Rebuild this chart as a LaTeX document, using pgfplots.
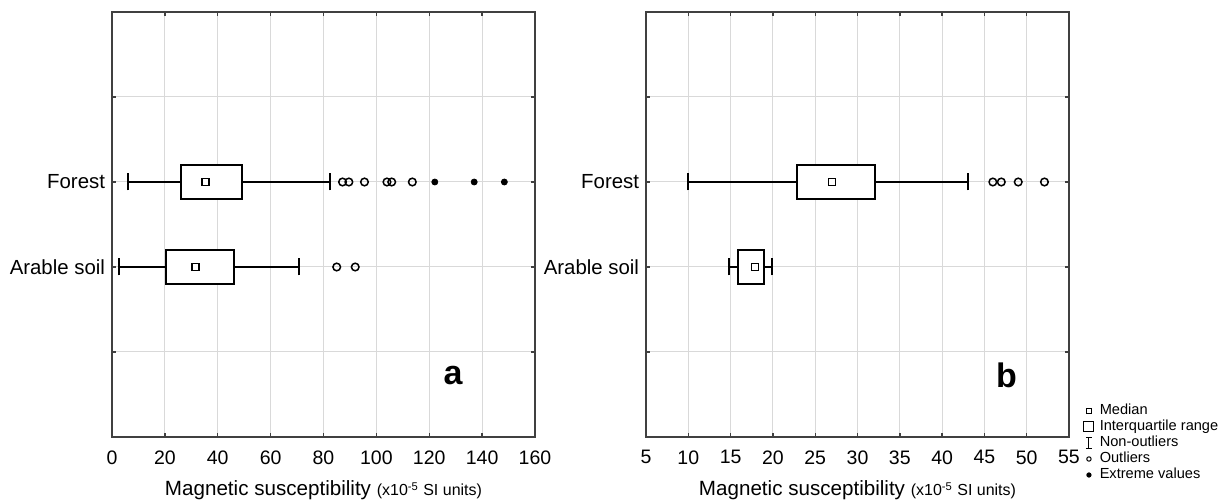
\documentclass[border=0pt]{standalone}
\usepackage{pgfplots}
\pgfplotsset{compat=1.18}
\usepgfplotslibrary{statistics}
\usepackage{fontspec}
\setmainfont{Liberation Sans}

% one picture pixel of the reference = 0.5bp
\pgfplotsset{
  panel/.style={
    scale only axis, width=211.5bp, height=212.5bp,
    anchor=south west,
    ymin=0, ymax=5,
    ytick={1,2,3,4}, yticklabels={,Arable soil,Forest,},
    grid=major, grid style={gray!30, line width=0.5bp},
    axis line style={black!75, line width=1.1bp},
    tick align=inside, major tick length=2bp,
    tick style={black!75, line width=0.7bp},
    xtick pos=both, ytick pos=both,
    /pgf/number format/assume math mode=true,
    x tick label style={font=\fontsize{9.75bp}{10bp}\selectfont, inner sep=0pt, anchor=north, yshift=-6.5bp},
    y tick label style={font=\fontsize{10.2bp}{11bp}\selectfont, inner sep=0pt, anchor=east, xshift=-3.3bp},
    xlabel={Magnetic susceptibility {\fontsize{8bp}{8bp}\selectfont(x10\textsuperscript{-5} SI units)}},
    xlabel style={font=\fontsize{10.3bp}{11bp}\selectfont, at={(axis description cs:0.5,0)},
                  anchor=base, inner sep=0pt, yshift=-29.4bp},
  },
  bx/.style={black, line width=1bp, fill=white, boxplot/draw/median/.code={}},
  med/.style={only marks, mark=square, mark size=1.75bp, mark options={black, line width=0.8bp}},
  outl/.style={only marks, mark=o, mark size=1.9bp, mark options={black, line width=0.75bp}},
  extr/.style={only marks, mark=*, mark size=1.5bp, mark options={black, fill=black}},
}

\begin{document}
\begin{tikzpicture}
\useasboundingbox (0,0) rectangle (611.5bp,250bp);

% panel a
\begin{axis}[panel, at={(56bp,31.5bp)}, xmin=0, xmax=160, xtick={0,20,...,160}]
\addplot[bx, boxplot prepared={lower whisker=6.1, lower quartile=26.2, median=35.3,
  upper quartile=49.2, upper whisker=82.5, draw position=3,
  box extend=0.4, whisker extend=0.2, draw direction=x}] coordinates {};
\addplot[bx, boxplot prepared={lower whisker=2.7, lower quartile=20.3, median=31.5,
  upper quartile=46.1, upper whisker=70.6, draw position=2,
  box extend=0.4, whisker extend=0.2, draw direction=x}] coordinates {};
\addplot[med] coordinates {(35.3,3) (31.5,2)};
\addplot[outl] coordinates {(87.2,3) (89.6,3) (95.5,3) (104.0,3) (105.8,3) (113.6,3) (85.0,2) (92.0,2)};
\addplot[extr] coordinates {(122.1,3) (137.0,3) (148.4,3)};
\node[font=\fontsize{17bp}{18bp}\selectfont\bfseries] at (axis cs:129,0.72) {a};
\end{axis}

% panel b
\begin{axis}[panel, at={(323bp,31.5bp)}, xmin=5, xmax=55, xtick={5,10,...,55},
  legend style={at={(rel axis cs:1.033,0.08)}, anchor=north west, draw=none, fill=none,
    inner sep=0pt, row sep=0.4bp, column sep=2.2bp, font=\fontsize{7.3bp}{8bp}\selectfont,
    nodes={inner sep=0.4bp, text height=5.3bp, text depth=1.5bp}},
  legend cell align=left]
\addplot[bx, forget plot, boxplot prepared={lower whisker=10.0, lower quartile=22.9, median=27.0,
  upper quartile=32.05, upper whisker=43.1, draw position=3,
  box extend=0.4, whisker extend=0.2, draw direction=x}] coordinates {};
\addplot[bx, forget plot, boxplot prepared={lower whisker=14.85, lower quartile=15.9, median=17.9,
  upper quartile=18.9, upper whisker=19.9, draw position=2,
  box extend=0.4, whisker extend=0.2, draw direction=x}] coordinates {};
\addplot[med, forget plot] coordinates {(27.0,3) (17.9,2)};
\addplot[outl, forget plot] coordinates {(46.0,3) (47.0,3) (49.0,3) (52.1,3)};
\node[font=\fontsize{17bp}{18bp}\selectfont\bfseries] at (axis cs:47.6,0.72) {b};

\addlegendimage{legend image code/.code={\path (-2.6bp,0) (2.6bp,0);
  \draw[line width=0.5bp] (-1.3bp,-1.3bp) rectangle (1.3bp,1.3bp);}}
\addlegendentry{Median}
\addlegendimage{legend image code/.code={\path (-2.6bp,0) (2.6bp,0);
  \draw[line width=0.5bp] (-2.5bp,-2.5bp) rectangle (2.5bp,2.5bp);}}
\addlegendentry{Interquartile range}
\addlegendimage{legend image code/.code={\path (-2.6bp,0) (2.6bp,0);
  \draw[line width=0.5bp] (0,-2.8bp) -- (0,2.8bp) (-1.6bp,2.8bp) -- (1.6bp,2.8bp) (-1.6bp,-2.8bp) -- (1.6bp,-2.8bp);}}
\addlegendentry{Non-outliers}
\addlegendimage{legend image code/.code={\path (-2.6bp,0) (2.6bp,0);
  \draw[line width=0.5bp] (0,0) circle (1.1bp);}}
\addlegendentry{Outliers}
\addlegendimage{legend image code/.code={\path (-2.6bp,0) (2.6bp,0);
  \fill (0,0) circle (1.1bp);}}
\addlegendentry{Extreme values}
\end{axis}
\end{tikzpicture}
\end{document}
